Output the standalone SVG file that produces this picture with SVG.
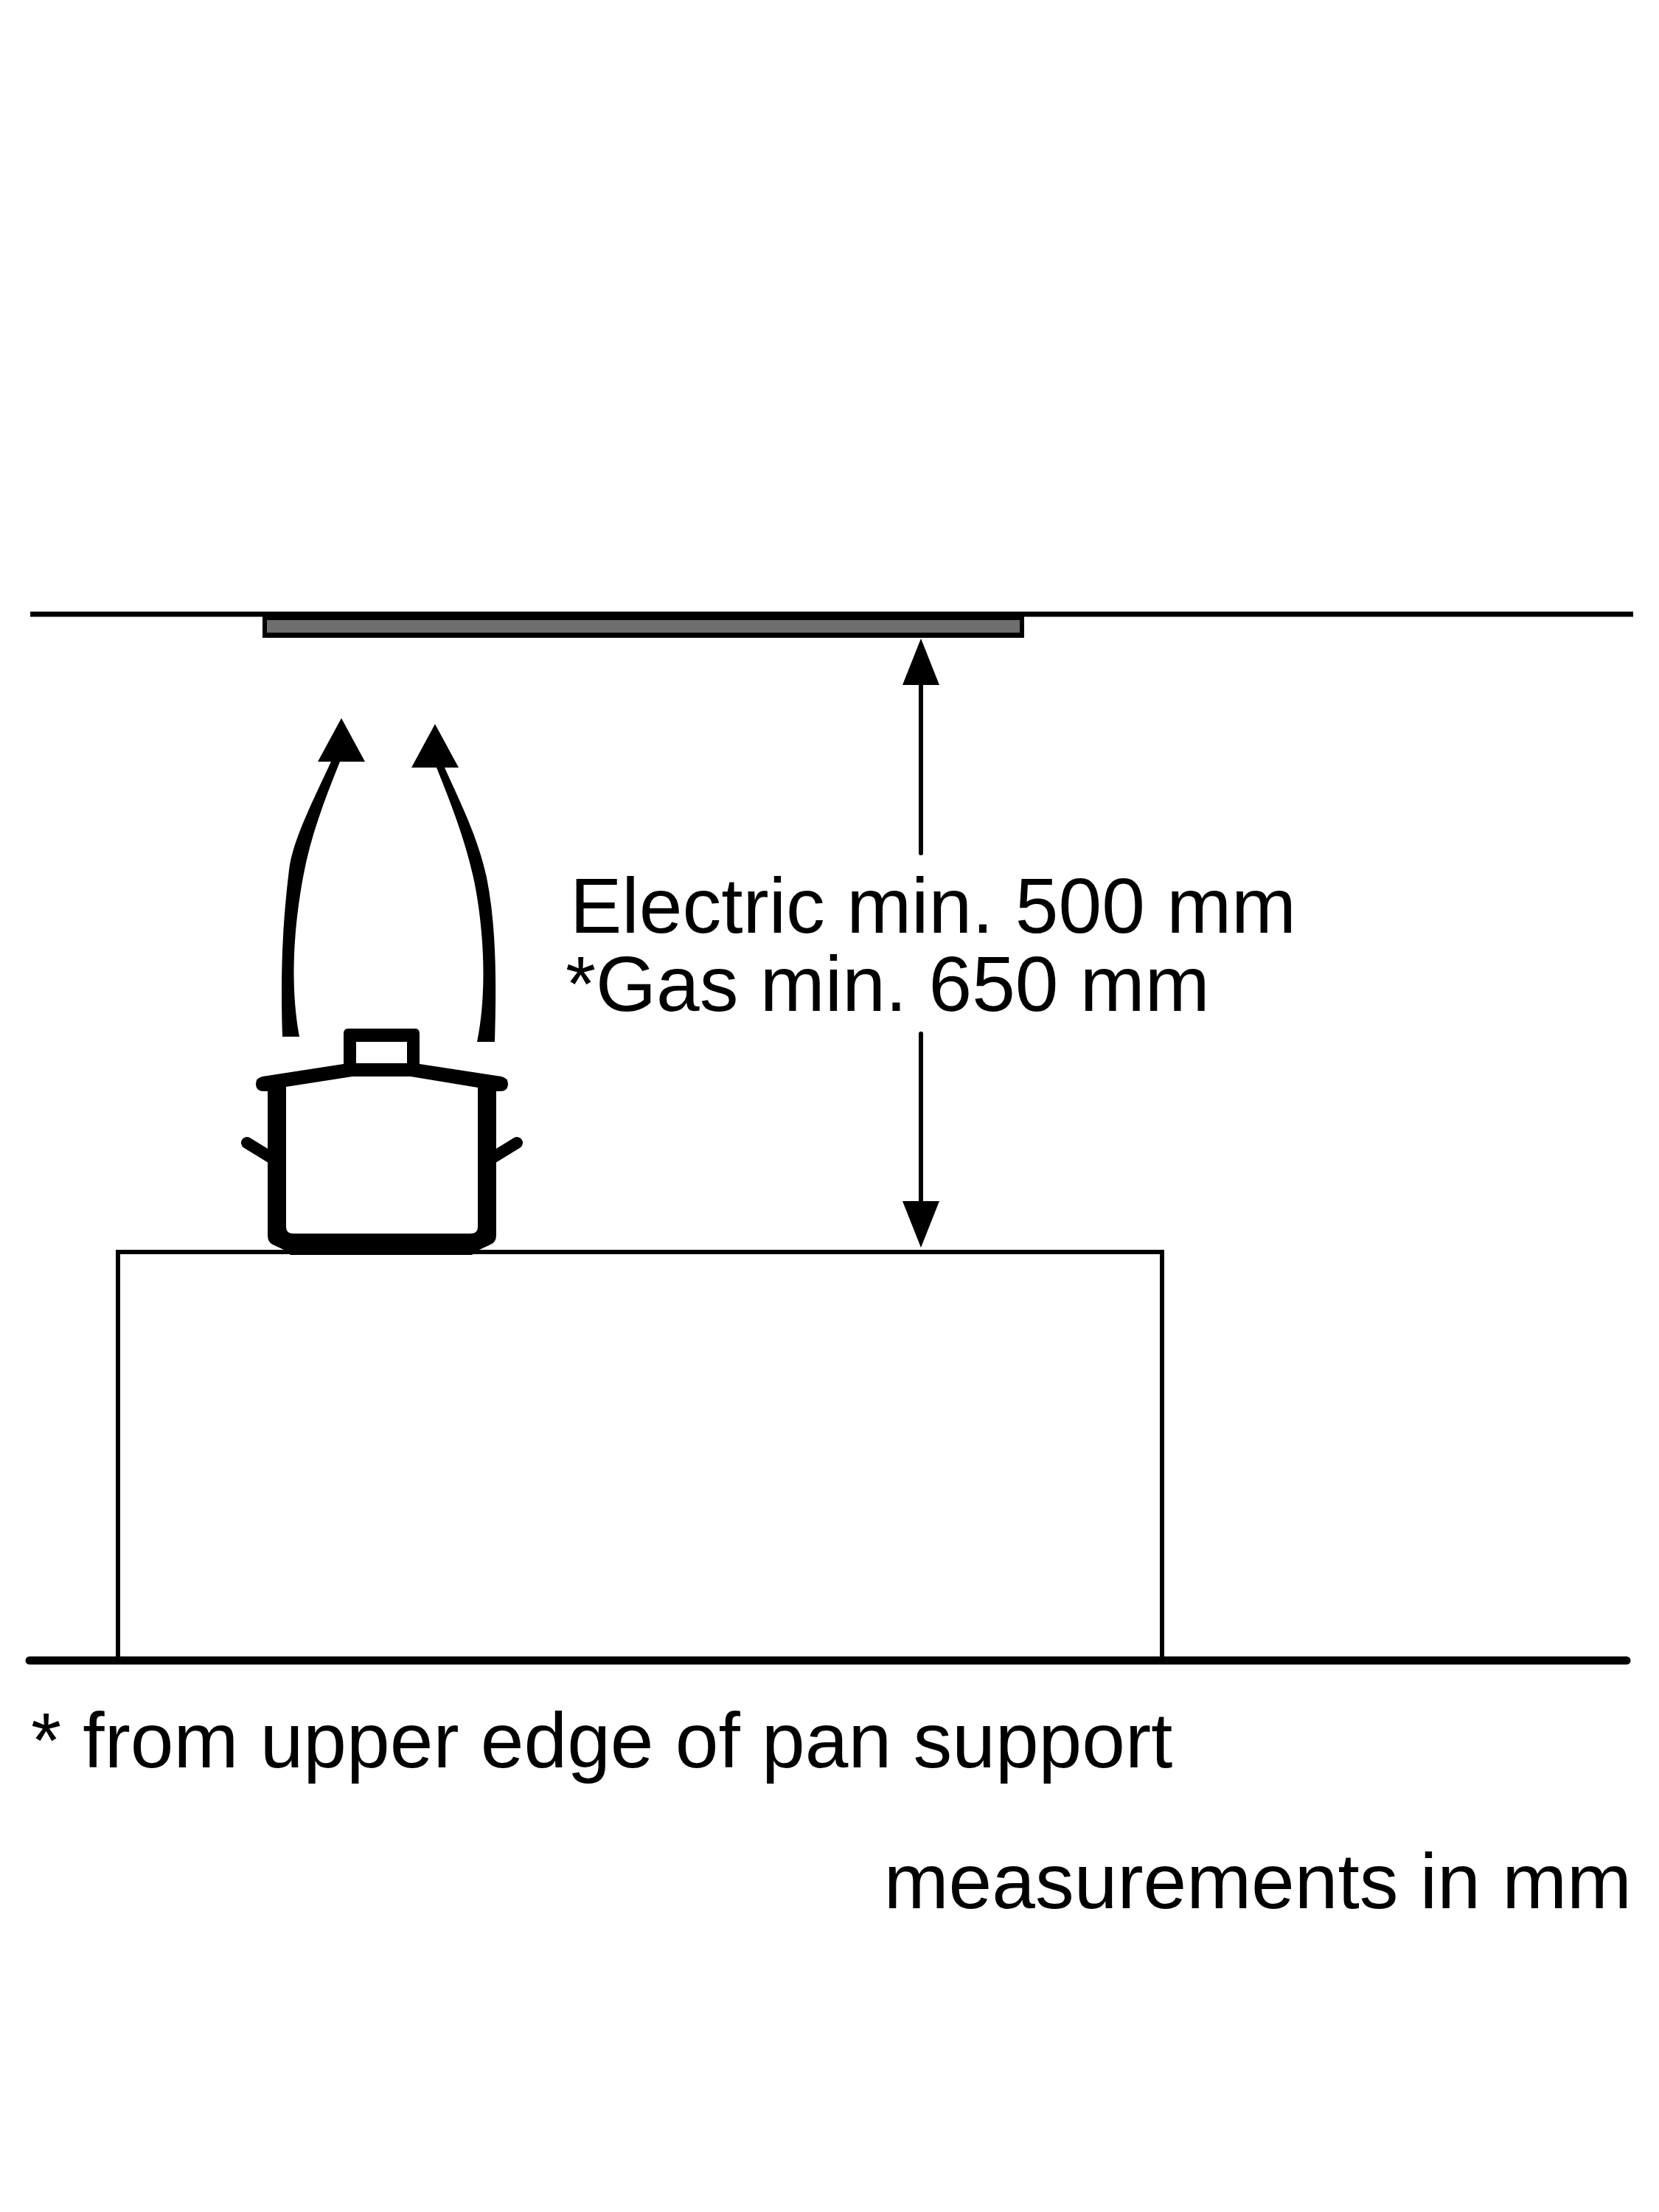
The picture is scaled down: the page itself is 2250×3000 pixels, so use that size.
<svg xmlns="http://www.w3.org/2000/svg" width="2250" height="3000" viewBox="0 0 2250 3000">
<style>
.lbl{font-family:"Liberation Sans",Arial,sans-serif;font-size:105.5px;fill:#000}
.ln{fill:none;stroke:#000;stroke-width:6}
.k{fill:#000;stroke:none}
</style>
<defs>
<marker id="head" markerUnits="userSpaceOnUse" markerWidth="64" markerHeight="50" refX="1" refY="25" orient="auto">
<path d="M0 0L63 25L0 50Z" fill="#000"/>
</marker>
</defs>
<rect width="2250" height="3000" fill="#fff"/>
<g id="ceiling"><path class="ln" style="stroke-width:7" d="M41 833H2215"/></g>
<g id="hood">
<rect x="356" y="830" width="1033" height="35" fill="#000"/>
<rect x="362" y="841" width="1021" height="17" fill="#6e6e6e"/>
</g>
<g id="cabinet"><path class="ln" d="M160 2250V1698H1576V2250"/></g>
<g id="floor"><path d="M40 2252H2206" fill="none" stroke="#000" stroke-width="11" stroke-linecap="round"/></g>
<g id="pot">
<path d="M335 1550L366 1569M701 1550L670 1569" fill="none" stroke="#000" stroke-width="16" stroke-linecap="round"/>
<path class="k" fill-rule="evenodd" d="M472 1395H563Q569 1395 569 1402V1443L680 1460Q689 1462 689 1470Q689 1480 678 1480H673V1675Q673 1685 665 1688L650 1695L640 1702H394L385 1695L370 1688Q363 1685 363 1675V1480H358Q347 1480 347 1470Q347 1462 356 1460L466 1443V1402Q466 1395 472 1395ZM483 1413V1442H552V1413ZM478 1460L388 1474V1664Q388 1673 398 1673H638Q648 1673 648 1664V1475L557 1460Z"/>
</g>
<g id="connectors">
<path id="flow-left" class="k" d="M383 1406C381 1340 381 1270 392 1180C397 1139 425 1085 449 1033H431L463 974L495 1033H461C440 1085 421 1135 411 1190C400 1250 392 1330 406 1406Z"/>
<path id="flow-right" class="k" d="M671 1413C673 1340 674 1260 660 1190C648 1135 625 1090 603 1041H622L590 982L558 1041H592C607 1078 630 1135 642 1190C655 1250 662 1340 647 1413Z"/>
<path id="dim-up" class="ln" stroke-linecap="round" d="M1249 1157V928" marker-end="url(#head)"/>
<path id="dim-down" class="ln" stroke-linecap="round" d="M1249 1402V1630" marker-end="url(#head)"/>
</g>
<g id="labels">
<text class="lbl" x="773" y="1265">Electric min. 500 mm</text>
<text class="lbl" x="767" y="1371">*Gas min. 650 mm</text>
<text class="lbl" x="42" y="2397">* from upper edge of pan support</text>
<text class="lbl" x="2213" y="2588" text-anchor="end">measurements in mm</text>
</g>
</svg>
